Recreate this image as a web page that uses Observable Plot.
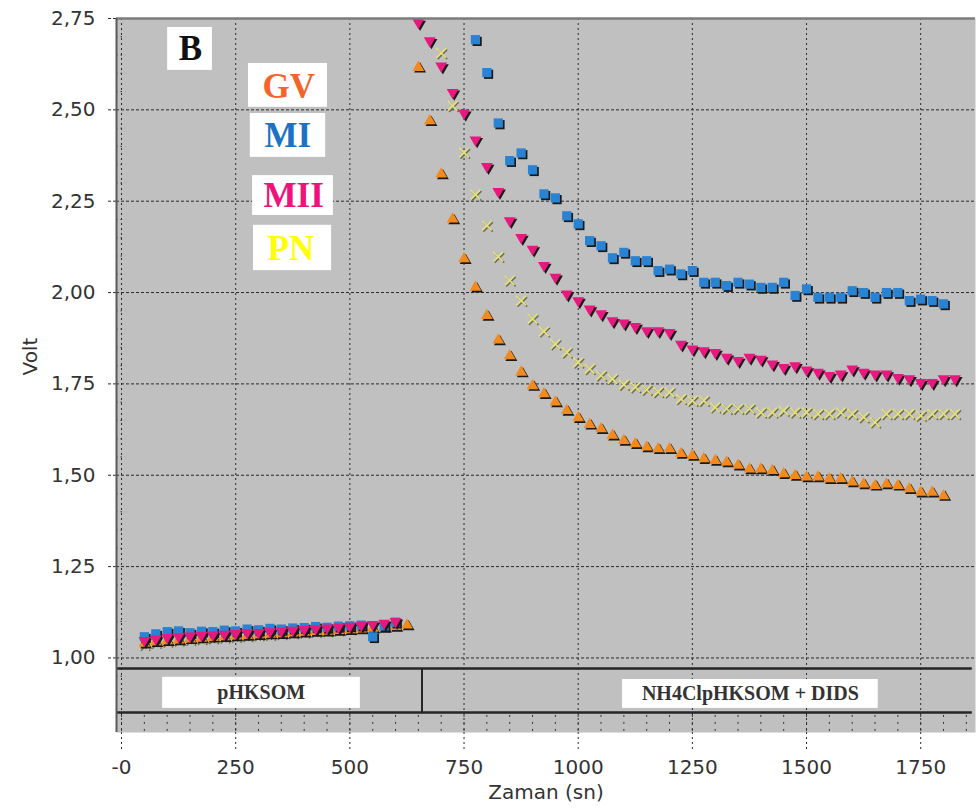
<!DOCTYPE html>
<html>
<head>
<meta charset="utf-8">
<script src="https://cdn.jsdelivr.net/npm/d3@7"></script>
<script src="https://cdn.jsdelivr.net/npm/@observablehq/plot@0.6"></script>
<style>
  body { margin: 0; background: #ffffff; }
  #chart svg { display: block; }
</style>
</head>
<body>
<div id="chart"></div>
<script>
// Sampling times (s): baseline phase, then the NH4Cl + DIDS phase
const phase1Times = [50, 75, 100, 125, 150, 175, 200, 225, 250, 275, 300, 325,
  350, 375, 400, 425, 450, 475, 500, 525, 550, 575, 600, 625];
const phase2Times = [650, 675, 700, 725, 750, 775, 800, 825, 850, 875, 900, 925,
  950, 975, 1000, 1025, 1050, 1075, 1100, 1125, 1150, 1175, 1200, 1225,
  1250, 1275, 1300, 1325, 1350, 1375, 1400, 1425, 1450, 1475, 1500, 1525,
  1550, 1575, 1600, 1625, 1650, 1675, 1700, 1725, 1750, 1775, 1800, 1825];

// Voltages (V); null where a series has no reading
const gvPhase1 = [1.040, 1.044, 1.047, 1.049, 1.052, 1.054, 1.056, 1.058, 1.060, 1.061, 1.063, 1.065,
  1.066, 1.068, 1.070, 1.072, 1.073, 1.075, 1.077, 1.079, 1.081, 1.083, 1.086, 1.090];
const miPhase1 = [1.058, 1.066, 1.072, 1.074, 1.069, 1.073, 1.072, 1.076, 1.074, 1.079, 1.077, 1.081,
  1.079, 1.082, 1.083, 1.086, 1.084, 1.087, 1.088, 1.090, 1.058, 1.088, 1.098, null];
const miiPhase1 = [1.048, 1.052, 1.056, 1.058, 1.060, 1.062, 1.063, 1.065, 1.067, 1.069, 1.070, 1.072,
  1.074, 1.076, 1.078, 1.080, 1.082, 1.084, 1.087, 1.090, 1.092, 1.095, 1.100, null];
const pnPhase1 = [1.036, 1.042, 1.045, 1.048, 1.050, 1.052, 1.054, 1.056, 1.058, 1.060, 1.062, 1.064,
  1.066, 1.068, 1.070, 1.072, 1.074, 1.076, 1.079, 1.082, 1.084, 1.087, 1.090, null];

const gvPhase2 = [2.616, 2.470, 2.324, 2.201, 2.092, 2.014, 1.937, 1.870, 1.827, 1.782, 1.745, 1.723,
  1.700, 1.677, 1.657, 1.639, 1.627, 1.609, 1.595, 1.586, 1.577, 1.572, 1.572, 1.559,
  1.554, 1.545, 1.540, 1.536, 1.527, 1.517, 1.517, 1.513, 1.504, 1.499, 1.495, 1.495,
  1.490, 1.490, 1.481, 1.476, 1.472, 1.476, 1.472, 1.463, 1.453, 1.453, 1.444, null];
const miPhase2 = [null, null, null, null, null, 2.692, 2.602, 2.464, 2.361, 2.382, 2.336, 2.270,
  2.259, 2.210, 2.188, 2.142, 2.128, 2.095, 2.110, 2.087, 2.087, 2.060, 2.064, 2.051,
  2.060, 2.028, 2.028, 2.019, 2.028, 2.023, 2.014, 2.014, 2.028, 1.992, 2.010, 1.987,
  1.987, 1.987, 2.005, 2.000, 1.987, 2.000, 2.000, 1.978, 1.982, 1.978, 1.969, null];
const miiPhase2 = [2.739, 2.689, 2.620, 2.548, 2.491, 2.418, 2.345, 2.277, 2.197, 2.151, 2.119, 2.074,
  2.042, 1.996, 1.978, 1.955, 1.942, 1.923, 1.917, 1.907, 1.896, 1.896, 1.891, 1.859,
  1.846, 1.841, 1.836, 1.823, 1.814, 1.823, 1.818, 1.805, 1.795, 1.800, 1.788, 1.782,
  1.773, 1.777, 1.791, 1.782, 1.777, 1.777, 1.768, 1.764, 1.754, 1.754, 1.764, 1.764];
const pnPhase2 = [null, null, 2.655, 2.511, 2.383, 2.268, 2.183, 2.098, 2.033, 1.978, 1.928, 1.894,
  1.859, 1.836, 1.809, 1.791, 1.773, 1.764, 1.748, 1.741, 1.734, 1.728, 1.727, 1.709,
  1.704, 1.704, 1.686, 1.682, 1.682, 1.682, 1.672, 1.672, 1.677, 1.672, 1.672, 1.668,
  1.668, 1.672, 1.668, 1.659, 1.645, 1.668, 1.668, 1.668, 1.663, 1.668, 1.668, 1.668];

// Axis ticks and labels
const xTicks = [0, 250, 500, 750, 1000, 1250, 1500, 1750];
const xTickLabels = ["-0", "250", "500", "750", "1000", "1250", "1500", "1750"];
const yTicks = [1.00, 1.25, 1.50, 1.75, 2.00, 2.25, 2.50, 2.75];
const yTickLabels = ["1,00", "1,25", "1,50", "1,75", "2,00", "2,25", "2,50", "2,75"];

// Series names, legend text colours, marker colours
const seriesNames = ["GV", "MI", "MII", "PN"];
const legendColors = ["#f4652c", "#1b72c6", "#f0127c", "#ffff00"];
const markerColors = ["#f28a1e", "#2a83d2", "#e8197e", "#e4e07a"];

// Protocol phases shown in the strip under the data
const phaseLabels = ["pHKSOM", "NH4ClpHKSOM + DIDS"];

function rows(times, values) {
  return times.map((t, i) => ({t, v: values[i]})).filter(d => d.v != null);
}
const data = {
  GV: rows(phase1Times, gvPhase1).concat(rows(phase2Times, gvPhase2)),
  MI: rows(phase1Times, miPhase1).concat(rows(phase2Times, miPhase2)),
  MII: rows(phase1Times, miiPhase1).concat(rows(phase2Times, miiPhase2)),
  PN: rows(phase1Times, pnPhase1).concat(rows(phase2Times, pnPhase2))
};

// Downward-pointing triangle (mirror of d3.symbolTriangle)
const triangleDown = {
  draw(context, size) {
    const y = -Math.sqrt(size / (Math.sqrt(3) * 3));
    context.moveTo(0, -y * 2);
    context.lineTo(-Math.sqrt(3) * y, y);
    context.lineTo(Math.sqrt(3) * y, y);
    context.closePath();
  }
};

const symbols = {GV: "triangle", MI: "square", MII: triangleDown, PN: "times"};
const radii = {GV: 4.4, MI: 5.2, MII: 4.4, PN: 4.4};

function seriesMarks(name) {
  const k = seriesNames.indexOf(name);
  const d = data[name];
  if (name === "PN") {
    return [
      Plot.dot(d, {x: "t", y: "v", symbol: "times", r: radii[name], stroke: "#6e6e5a", strokeWidth: 1.7, dx: 1.2, dy: 1.2, clip: true}),
      Plot.dot(d, {x: "t", y: "v", symbol: "times", r: radii[name], stroke: markerColors[k], strokeWidth: 1.7, clip: true})
    ];
  }
  return [
    Plot.dot(d, {x: "t", y: "v", symbol: symbols[name], r: radii[name], fill: "#1a1a1a", stroke: null, dx: 1.7, dy: 1.7, clip: true}),
    Plot.dot(d, {x: "t", y: "v", symbol: symbols[name], r: radii[name], fill: markerColors[k], stroke: null, clip: true})
  ];
}

// Legend boxes: [t1, t2, v1, v2, text t, text v]
const legendBoxes = [
  [278, 451, 2.507, 2.627, 366, 2.563],
  [282, 447, 2.370, 2.490, 364, 2.428],
  [287, 464, 2.211, 2.320, 377, 2.266],
  [289, 460, 2.060, 2.184, 371, 2.120]
];

const minorY = d3.range(0.85, 2.749, 0.05).filter(v => Math.abs(v * 4 - Math.round(v * 4)) > 1e-6);
const stripTicks = d3.range(0, 1851, 50);

const serifBold = {fontFamily: "'Liberation Serif', 'Times New Roman', serif", fontWeight: "bold"};

const chart = Plot.plot({
  width: 980,
  height: 812,
  marginLeft: 116,
  marginRight: 5,
  marginTop: 18,
  marginBottom: 80,
  style: {fontFamily: "'DejaVu Sans', sans-serif", fontSize: "20px", color: "#333", background: "#ffffff"},
  x: {domain: [-11, 1870]},
  y: {domain: [0.796, 2.75]},
  marks: [
    Plot.frame({fill: "#c0c0c0", stroke: null}),

    // minor ticks along the left edge and along the strip's lower row
    Plot.ruleY(minorY, {x1: -11, x2: 9, stroke: "#333", strokeDasharray: "1.5,3"}),
    Plot.ruleX(stripTicks, {y1: 0.799, y2: 0.846, stroke: "#333", strokeDasharray: "2,5"}),

    // dotted grid
    Plot.ruleX(xTicks, {stroke: "#2a2a2a", strokeDasharray: "2,3"}),
    Plot.ruleY(yTicks, {stroke: "#2a2a2a", strokeDasharray: "3,2"}),

    // protocol strip
    Plot.ruleY([0.971, 0.851], {x1: -11, x2: 1863, stroke: "#262626", strokeWidth: 2.5}),
    Plot.ruleX([658], {y1: 0.851, y2: 0.971, stroke: "#262626", strokeWidth: 2}),
    Plot.rect([0], {x1: 90, x2: 523, y1: 0.862, y2: 0.947, fill: "#ffffff"}),
    Plot.rect([0], {x1: 1097, x2: 1657, y1: 0.862, y2: 0.941, fill: "#ffffff"}),
    Plot.text([phaseLabels[0]], {x: 306, y: 0.906, fontSize: 20, fill: "#333", ...serifBold}),
    Plot.text([phaseLabels[1]], {x: 1377, y: 0.903, fontSize: 20, fill: "#333", ...serifBold}),

    // data
    ...seriesMarks("PN"),
    ...seriesMarks("GV"),
    ...seriesMarks("MI"),
    ...seriesMarks("MII"),

    // panel letter and legend
    Plot.rect([0], {x1: 101, x2: 199, y1: 2.608, y2: 2.7255, fill: "#ffffff"}),
    Plot.text(["B"], {x: 151, y: 2.667, fontSize: 35, fill: "#111", ...serifBold}),
    Plot.rect(legendBoxes, {x1: d => d[0], x2: d => d[1], y1: d => d[2], y2: d => d[3], fill: "#ffffff"}),
    Plot.text(legendBoxes, {x: d => d[4], y: d => d[5], text: (d, i) => seriesNames[i], fill: (d, i) => legendColors[i], fontSize: 35, ...serifBold}),

    // axes
    Plot.axisX({ticks: xTicks, tickFormat: d => xTickLabels[xTicks.indexOf(d)], tickSize: 18, tickPadding: 9,
      stroke: "#2a2a2a", strokeDasharray: "2,3", fill: "#333", fontSize: 20, label: null}),
    Plot.axisY({ticks: yTicks, tickFormat: d => yTickLabels[yTicks.indexOf(d)], tickSize: 9, tickPadding: 12,
      stroke: "#2a2a2a", strokeDasharray: "3,2", fill: "#333", fontSize: 20, label: null}),
    Plot.text(["Zaman (sn)"], {frameAnchor: "bottom", dy: 66, fontSize: 20, fill: "#333"}),
    Plot.text(["Volt"], {frameAnchor: "left", dx: -86, rotate: -90, fontSize: 20, fill: "#333"}),

    // frame edges
    Plot.ruleY([2.75], {stroke: "#7c7c7c", strokeWidth: 2.5}),
    Plot.ruleX([-11], {stroke: "#5a5a5a", strokeWidth: 2})
  ]
});

document.getElementById("chart").append(chart);
</script>
</body>
</html>
